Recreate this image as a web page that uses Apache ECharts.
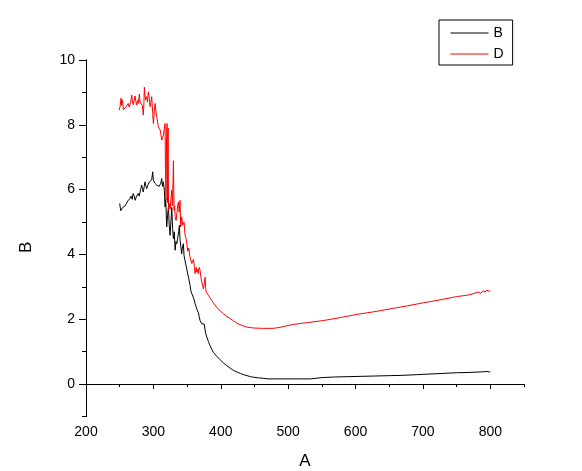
<!DOCTYPE html>
<html>
<head>
<meta charset="utf-8">
<script src="https://cdn.jsdelivr.net/npm/echarts@6/dist/echarts.min.js"></script>
<style>
html,body{margin:0;padding:0;background:#fff;}
#chart{width:582px;height:471px;}
</style>
</head>
<body>
<div id="chart"></div>
<script>
// Series B (black)
var bX = [250,251.5,253,254.5,256,258,260,262,263.5,265,267,268.5,270,271.5,273,275,277.5,279,281,282.7,284,285,286.5,287.6,289,290,292,294,296,297.5,299,300,302,303.5,305,307,308.5,310,311,312.4,313.5,314.8,316.3,317.3,318.3,319.8,321,322.3,323.5,324.8,326,327.3,328.5,329.7,331,332.2,333.5,334.7,336,337.5,338.6,339.6,341,342,343,344.5,345.5,347,348.5,349.6,351,352.5,353.4,354.5,355.5,357,358.5,359.4,360.5,361.9,363.3,364.4,365.5,366.8,368,369.3,370.5,371.8,373,374.2,375.5,376.5,377.2,379.3,381.5,384,386.5,389,394,399,404,409,414,419,424,429,434,439,444,449,456,463,470,480,500,520,533,535,550,570,590,610,630,650,670,690,710,730,750,770,790,795,798,800];
var bY = [5.57,5.35,5.31,5.45,5.4,5.5,5.52,5.65,5.6,5.72,5.8,5.7,5.88,5.8,5.67,5.8,5.88,5.8,6.0,6.14,6.0,5.93,6.1,6.24,6.1,6.03,6.15,6.24,6.2,6.3,6.55,6.29,6.2,6.25,6.14,6.2,6.1,6.08,6.2,6.34,6.1,6.24,5.98,5.47,5.7,4.85,5.2,5.47,4.9,4.59,5.0,5.45,4.8,4.49,4.7,4.13,4.4,4.33,4.5,4.7,4.9,4.43,4.2,4.02,4.2,4.33,3.97,3.8,3.65,3.55,3.4,3.25,3.15,3.05,2.89,2.79,2.72,2.68,2.6,2.48,2.4,2.32,2.28,2.2,2.08,1.96,1.9,1.86,1.88,1.92,1.85,1.9,1.6,1.45,1.32,1.19,1.08,0.98,0.86,0.75,0.65,0.57,0.49,0.42,0.37,0.33,0.29,0.26,0.23,0.21,0.19,0.18,0.16,0.16,0.16,0.16,0.16,0.19,0.2,0.22,0.23,0.24,0.25,0.26,0.27,0.29,0.31,0.33,0.35,0.36,0.38,0.39,0.37,0.4];
// Series D (red)
var dX = [249,250.5,252,253,254,255.5,257,258,259,260.4,261.5,262.8,264,265.3,266.5,267.8,269,270.3,271.5,272.8,274,275.3,276.5,277.7,279.2,280.2,281.2,282.5,283.6,285.1,286,286.6,287.6,288.6,290.1,291.3,292.5,294,295,296.5,297.5,299,300,301.3,302.5,303.7,305,306.2,307.4,308.7,310,311.2,312.4,313.6,314.8,316,317.3,318,318.8,319.5,320.3,321,321.8,322.5,323.7,325,326,327.3,328.2,329.2,329.7,330.7,331.5,332.2,333.7,335,336,337.1,338.3,339.6,340.5,342.1,343.3,344.5,345.5,347,348.5,349.6,351,352.5,354,355.5,357,358.4,359.5,361,361.9,363.5,364.5,366,366.8,368,369.3,370.5,371.8,373,374.2,375.5,376.7,377.5,378.2,380,381.6,384,386.7,390,394,399,404,409,414,419,424,431,438.7,448.5,463,478,488,498,508,518,530,552,577,602,627,651,676,701,726,750,765,775,782,786,789,792,795,798,800];
var dY = [8.45,8.55,8.82,8.6,8.77,8.47,8.52,8.5,8.54,8.56,8.5,8.66,8.55,8.6,8.7,8.92,8.7,8.62,8.75,8.89,8.72,8.61,8.75,8.66,8.95,8.7,8.66,8.75,8.6,8.3,8.7,9.16,8.9,8.77,8.87,8.7,9.02,8.82,8.56,8.7,8.87,8.35,8.04,8.4,8.66,8.4,8.25,8.1,7.94,7.9,7.84,7.7,7.53,7.6,7.68,7.85,8.04,6.5,5.67,7.5,8.04,5.6,7.9,5.36,5.57,5.4,5.7,5.98,5.5,6.3,6.89,5.36,5.5,5.16,5.05,5.3,5.5,5.62,5.3,5.67,4.85,5.16,4.9,4.85,5.0,4.6,4.5,4.33,4.1,4.2,3.95,4.0,3.72,3.66,3.85,3.6,3.41,3.6,3.45,3.55,3.41,3.6,3.51,3.3,3.15,3.05,2.94,3.1,3.3,3.0,2.84,2.78,2.74,2.66,2.58,2.48,2.37,2.26,2.17,2.09,2.02,1.95,1.88,1.81,1.76,1.73,1.72,1.72,1.75,1.8,1.84,1.87,1.9,1.96,2.05,2.15,2.23,2.32,2.41,2.51,2.6,2.7,2.74,2.79,2.84,2.8,2.88,2.84,2.9,2.86,2.9];

// Tick values
var xMajorTicks = [200,300,400,500,600,700,800];
var xMinorTicks = [250,350,450,550,650,750,850];
var yMajorTicks = [0,2,4,6,8,10];
var yMinorTicks = [-1,1,3,5,7,9];

function pairs(xs, ys){ var out=[]; for(var i=0;i<xs.length;i++) out.push([xs[i], ys[i]]); return out; }

var FONT = 'Liberation Sans, Arial, sans-serif';
var chart = echarts.init(document.getElementById('chart'), null, {renderer:'canvas'});
var axLine = {show:true, lineStyle:{color:'#000', width:1}};
chart.setOption({
  animation:false,
  backgroundColor:'#fff',
  grid:{left:86, top:60, right:58, bottom:54.5, containLabel:false, outerBoundsMode:'none'},
  legend:{
    left:439, top:20, orient:'vertical',
    borderColor:'#000', borderWidth:1, borderRadius:0,
    padding:[6,9,4,11], itemWidth:38, itemHeight:14, itemGap:7,
    itemStyle:{opacity:0},
    lineStyle:{width:1},
    textStyle:{fontSize:14, color:'#000', fontFamily:FONT},
    data:['B','D']
  },
  xAxis:[
    {type:'value', min:200, max:850, position:'bottom',
     axisLine:axLine, splitLine:{show:false},
     axisTick:{show:true, customValues:xMinorTicks, length:3, lineStyle:{color:'#000'}},
     axisLabel:{show:false}},
    {type:'value', min:200, max:850, position:'bottom',
     axisLine:axLine, splitLine:{show:false},
     axisTick:{show:true, customValues:xMajorTicks, length:5, lineStyle:{color:'#000'}},
     axisLabel:{show:true, customValues:xMajorTicks, color:'#000', fontSize:14, fontFamily:FONT, margin:9},
     name:'A', nameLocation:'middle', nameGap:36,
     nameTextStyle:{fontSize:17, color:'#000', fontFamily:FONT}}
  ],
  yAxis:[
    {type:'value', min:-1, max:10, position:'left', offset:0,
     axisLine:axLine, splitLine:{show:false},
     axisTick:{show:true, customValues:yMinorTicks, length:4, lineStyle:{color:'#000'}},
     axisLabel:{show:false}},
    {type:'value', min:-1, max:10, position:'left', offset:0,
     axisLine:axLine, splitLine:{show:false},
     axisTick:{show:true, customValues:yMajorTicks, length:7, lineStyle:{color:'#000'}},
     axisLabel:{show:true, customValues:yMajorTicks, color:'#000', fontSize:14, fontFamily:FONT, margin:11},
     name:'B', nameLocation:'middle', nameGap:51,
     nameTextStyle:{fontSize:17, color:'#000', fontFamily:FONT, padding:[0,18,0,0]}}
  ],
  series:[
    {name:'B', type:'line', xAxisIndex:0, yAxisIndex:0, data:pairs(bX,bY),
     symbol:'none', showSymbol:false, lineStyle:{color:'#000', width:1}, itemStyle:{color:'#000'}},
    {name:'D', type:'line', xAxisIndex:0, yAxisIndex:0, data:pairs(dX,dY),
     symbol:'none', showSymbol:false, lineStyle:{color:'#ff0000', width:1}, itemStyle:{color:'#ff0000'}}
  ]
});
</script>
</body>
</html>
